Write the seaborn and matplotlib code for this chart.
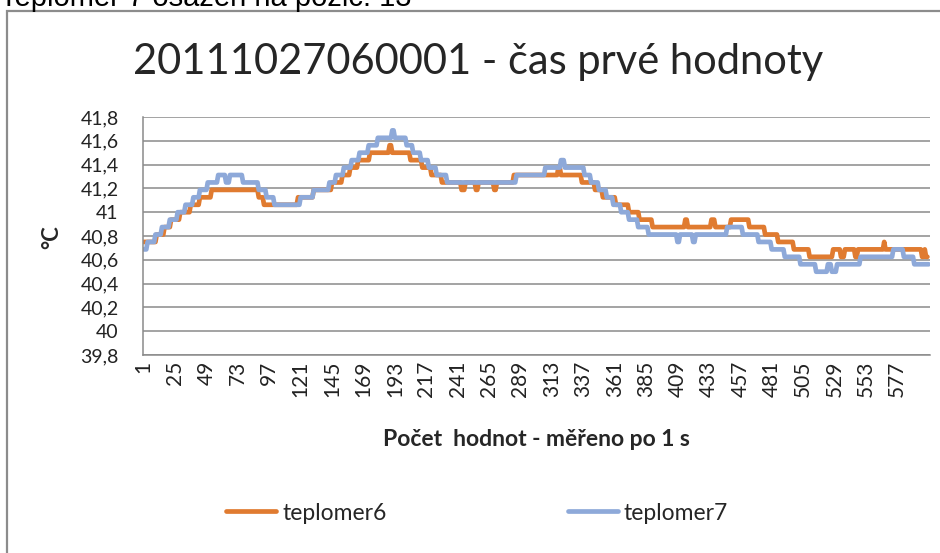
import numpy as np
import pandas as pd
import matplotlib
matplotlib.use("Agg")
import matplotlib.pyplot as plt
from matplotlib.patches import Rectangle
from matplotlib.lines import Line2D
import seaborn as sns

# hodnoty: uroven teploty a kolik vzorku po sobe ji ma
t6_levels = [40.75, 40.8125, 40.875, 40.9375, 41.0, 41.0625, 41.125, 41.1875, 41.125, 41.0625,
             41.125, 41.1875, 41.25, 41.3125, 41.375, 41.4375, 41.5, 41.5625, 41.5, 41.4375,
             41.375, 41.3125, 41.25, 41.1875, 41.25, 41.1875, 41.25, 41.1875, 41.25, 41.3125,
             41.375, 41.3125, 41.25, 41.1875, 41.125, 41.0625, 41.0, 40.9375, 40.875, 40.9375,
             40.875, 40.9375, 40.875, 40.9375, 40.875, 40.8125, 40.75, 40.6875, 40.625, 40.6875,
             40.625, 40.6875, 40.625, 40.6875, 40.75, 40.6875, 40.625, 40.6875, 40.625]
t6_counts = [10, 6, 5, 7, 8, 7, 9, 36, 4, 26,
             12, 14, 8, 6, 6, 9, 15, 2, 14, 9,
             7, 8, 15, 3, 8, 2, 12, 2, 13, 34,
             2, 16, 10, 6, 10, 10, 8, 10, 25, 2,
             18, 3, 12, 14, 12, 10, 12, 12, 18, 6,
             3, 8, 2, 20, 1, 28, 2, 1, 2]

t7_levels = [40.6875, 40.75, 40.8125, 40.875, 40.9375, 41.0, 41.0625, 41.125, 41.1875, 41.25,
             41.3125, 41.25, 41.3125, 41.25, 41.1875, 41.125, 41.0625, 41.125, 41.1875, 41.25,
             41.3125, 41.375, 41.4375, 41.5, 41.5625, 41.625, 41.6875, 41.625, 41.5625, 41.5,
             41.4375, 41.375, 41.3125, 41.25, 41.3125, 41.375, 41.4375, 41.375, 41.3125, 41.25,
             41.1875, 41.125, 41.0625, 41.0, 40.9375, 40.875, 40.8125, 40.75, 40.8125, 40.75,
             40.8125, 40.875, 40.8125, 40.75, 40.6875, 40.625, 40.5625, 40.5, 40.5625, 40.5,
             40.5625, 40.625, 40.6875, 40.625, 40.5625]
t7_counts = [3, 6, 5, 6, 6, 6, 6, 5, 6, 8,
             6, 3, 10, 12, 6, 6, 20, 10, 12, 5,
             6, 6, 6, 7, 7, 11, 2, 9, 5, 6,
             6, 6, 8, 53, 22, 12, 3, 15, 5, 6,
             6, 5, 6, 6, 7, 8, 22, 2, 10, 2,
             24, 12, 12, 10, 10, 12, 12, 9, 3, 4,
             18, 25, 8, 8, 12]

series_names = ["teplomer6", "teplomer7"]
x_ticks = list(range(1, 601, 24))
y_ticks = [39.8, 40.0, 40.2, 40.4, 40.6, 40.8, 41.0, 41.2, 41.4, 41.6, 41.8]

t6 = np.repeat(t6_levels, t6_counts)
t7 = np.repeat(t7_levels, t7_counts)
df = pd.concat([
    pd.DataFrame({"n": np.arange(1, len(t6) + 1), "teplota": t6, "serie": series_names[0]}),
    pd.DataFrame({"n": np.arange(1, len(t7) + 1), "teplota": t7, "serie": series_names[1]}),
])

sns.set_theme(style="white")
plt.rcParams['font.family'] = ['Lato', 'DejaVu Sans']

W, H = 940, 553
fig = plt.figure(figsize=(W / 100, H / 100), dpi=100)

def px(x, y):
    return x / W, 1 - y / H

# ramecek grafu
fig.patches.append(Rectangle(px(7, 600), 1.0, (600 - 11) / H, transform=fig.transFigure,
                             fill=False, edgecolor="#8c8c8c", linewidth=1.6))
fig.text(*px(0, 6), "Teplomer 7 osazen na pozic. 13", fontsize=21, family=['Liberation Sans'],
         ha="left", va="baseline", color="black")

x0, y0 = px(143, 355)
x1, y1 = px(930, 117)
ax = fig.add_axes([x0, y0, x1 - x0, y1 - y0])

colors = {"teplomer6": "#E07B30", "teplomer7": "#8EA9D9"}
sns.lineplot(data=df, x="n", y="teplota", hue="serie", palette=colors, estimator=None,
             linewidth=3.4, ax=ax, legend=False)

ax.set_xlim(0.5, 602)
ax.set_ylim(39.8, 41.8)
ax.set_yticks(y_ticks)
ax.set_yticklabels([f"{v:.1f}".replace(".", ",").replace(",0", "") for v in y_ticks], fontsize=14)
ax.set_xticks(x_ticks)
ax.set_xticklabels([str(v) for v in x_ticks], rotation=90, fontsize=15)
ax.yaxis.grid(True, color="#8a8a8a", linewidth=1.1)
ax.xaxis.grid(False)
ax.set_axisbelow(True)
for s in ["top", "right"]:
    ax.spines[s].set_visible(False)
for s in ["left", "bottom"]:
    ax.spines[s].set_color("#8a8a8a")
    ax.spines[s].set_linewidth(1.1)
ax.tick_params(axis="y", length=5.5, color="#8a8a8a", width=1.1, pad=12, labelcolor="#222222")
ax.tick_params(axis="x", length=0, pad=4, labelcolor="#222222")
ax.set_xlabel("")
ax.set_ylabel("")

fig.text(*px(478, 62), "20111027060001 - čas prvé hodnoty", fontsize=30, ha="center", va="center")
fig.text(*px(52, 237), "°C", fontsize=16, fontweight="bold", rotation=90, ha="center", va="center")
fig.text(*px(536, 440), "Počet  hodnot - měřeno po 1 s", fontsize=16.5, fontweight="bold",
         ha="center", va="center")

handles = [Line2D([], [], color=colors[n], linewidth=3.4) for n in series_names]
fig.legend(handles, series_names, loc="center left", bbox_to_anchor=px(226, 513), ncol=2,
           frameon=False, fontsize=16.5, handlelength=2.2, handletextpad=0.25,
           columnspacing=7.9, borderaxespad=0, borderpad=0)

fig.savefig("out.png", dpi=100)
